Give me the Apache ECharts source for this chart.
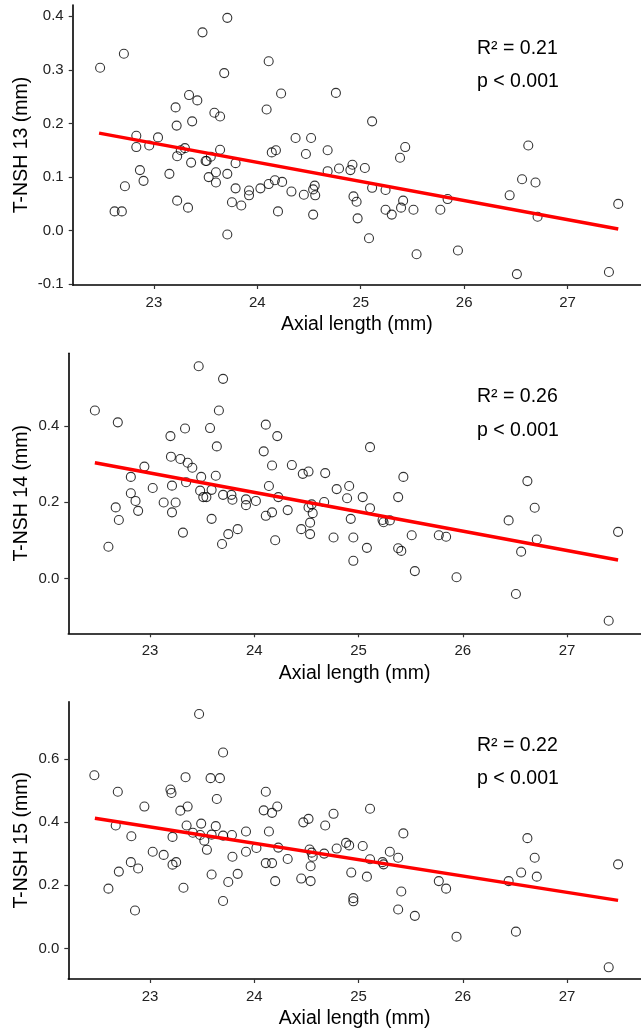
<!DOCTYPE html>
<html>
<head>
<meta charset="utf-8">
<script src="https://cdn.jsdelivr.net/npm/echarts@6/dist/echarts.min.js"></script>
<style>
html,body{margin:0;padding:0;background:#fff;}
#c{width:641px;height:1030px;}
</style>
</head>
<body>
<div id="c"></div>
<script>
// ---- Data ----
var xTicks = [23, 24, 25, 26, 27];
var yTicks13 = [-0.1, 0.0, 0.1, 0.2, 0.3, 0.4];
var yTicks14 = [0.0, 0.2, 0.4];
var yTicks15 = [0.0, 0.2, 0.4, 0.6];

var axial13 = [22.48,22.71,22.72,22.62,22.69,22.83,22.83,22.865,22.90,22.955,23.04,23.15,23.21,23.22,23.225,23.225,23.26,23.30,23.33,23.34,23.36,23.37,23.42,23.47,23.50,23.51,23.55,23.53,23.585,23.60,23.60,23.64,23.64,23.68,23.71,23.71,23.71,23.755,23.79,23.79,23.845,23.92,23.92,24.03,24.09,24.11,24.11,24.14,24.18,24.17,24.20,24.23,24.24,24.33,24.37,24.45,24.47,24.52,24.54,24.555,24.56,24.54,24.68,24.68,24.76,24.79,24.90,24.92,24.93,24.96,24.97,25.04,25.11,25.08,25.11,25.24,25.24,25.30,25.38,25.43,25.41,25.39,25.51,25.54,25.77,25.84,25.94,26.44,26.56,26.62,26.51,26.69,26.71,27.49,27.40];
var tnsh13 = [0.304,0.330,0.083,0.036,0.036,0.177,0.156,0.113,0.093,0.159,0.174,0.106,0.230,0.196,0.056,0.139,0.150,0.154,0.043,0.253,0.127,0.204,0.243,0.370,0.130,0.130,0.138,0.100,0.220,0.109,0.090,0.213,0.151,0.294,0.106,0.397,-0.007,0.053,0.126,0.079,0.047,0.075,0.066,0.079,0.226,0.316,0.087,0.146,0.150,0.094,0.036,0.256,0.091,0.073,0.173,0.067,0.143,0.173,0.077,0.084,0.066,0.030,0.150,0.111,0.257,0.116,0.113,0.123,0.064,0.054,0.023,0.117,0.204,-0.014,0.080,0.076,0.039,0.030,0.136,0.156,0.056,0.043,0.039,-0.044,0.039,0.059,-0.037,0.066,0.096,0.159,-0.081,0.090,0.026,0.050,-0.077];

var axial14 = [22.47,22.69,22.60,22.67,22.70,22.815,22.815,22.86,22.885,22.945,23.025,23.13,23.195,23.20,23.21,23.21,23.245,23.29,23.315,23.335,23.345,23.36,23.405,23.466,23.49,23.48,23.51,23.54,23.575,23.59,23.59,23.63,23.64,23.66,23.70,23.70,23.69,23.75,23.78,23.79,23.84,23.92,23.92,24.015,24.09,24.11,24.11,24.14,24.17,24.17,24.20,24.22,24.23,24.32,24.36,24.45,24.465,24.52,24.52,24.55,24.56,24.535,24.535,24.68,24.67,24.76,24.79,24.89,24.91,24.925,24.95,24.95,25.04,25.11,25.11,25.08,25.23,25.24,25.30,25.38,25.43,25.38,25.41,25.51,25.54,25.77,25.84,25.94,26.44,26.56,26.62,26.51,26.69,26.71,27.49,27.40];
var tnsh14 = [0.440,0.409,0.083,0.186,0.153,0.266,0.223,0.203,0.177,0.293,0.237,0.199,0.373,0.319,0.243,0.173,0.199,0.313,0.120,0.393,0.252,0.303,0.290,0.556,0.266,0.230,0.213,0.213,0.394,0.232,0.156,0.269,0.346,0.440,0.523,0.219,0.090,0.116,0.219,0.206,0.129,0.207,0.192,0.203,0.333,0.403,0.164,0.242,0.296,0.173,0.100,0.373,0.213,0.179,0.297,0.129,0.274,0.280,0.186,0.194,0.171,0.146,0.116,0.276,0.200,0.107,0.234,0.210,0.242,0.156,0.107,0.046,0.213,0.344,0.184,0.080,0.153,0.147,0.152,0.213,0.266,0.079,0.072,0.113,0.019,0.113,0.109,0.003,0.152,0.070,0.255,-0.041,0.185,0.102,0.122,-0.111];

var axial15 = [22.465,22.69,22.67,22.60,22.70,22.82,22.815,22.885,22.855,22.945,23.025,23.13,23.195,23.205,23.215,23.215,23.25,23.29,23.32,23.34,23.35,23.36,23.41,23.47,23.49,23.48,23.52,23.545,23.58,23.59,23.59,23.63,23.64,23.67,23.70,23.70,23.70,23.75,23.785,23.79,23.84,23.92,23.92,24.02,24.09,24.11,24.11,24.14,24.17,24.17,24.20,24.22,24.23,24.32,24.47,24.45,24.52,24.53,24.55,24.56,24.54,24.54,24.68,24.67,24.76,24.79,24.88,24.91,24.93,24.95,24.95,25.04,25.11,25.11,25.08,25.23,25.24,25.30,25.38,25.43,25.41,25.38,25.54,25.77,25.84,25.94,26.44,26.56,26.62,26.51,26.69,26.71,27.49,27.40];
var tnsh15 = [0.548,0.496,0.389,0.189,0.243,0.355,0.273,0.253,0.120,0.449,0.306,0.296,0.503,0.492,0.353,0.265,0.273,0.436,0.192,0.542,0.389,0.449,0.366,0.742,0.395,0.359,0.341,0.312,0.539,0.360,0.234,0.387,0.473,0.539,0.620,0.357,0.150,0.210,0.359,0.290,0.236,0.370,0.306,0.318,0.437,0.496,0.270,0.370,0.429,0.270,0.213,0.449,0.319,0.283,0.399,0.221,0.410,0.313,0.303,0.290,0.260,0.213,0.389,0.300,0.426,0.316,0.334,0.326,0.240,0.159,0.149,0.324,0.442,0.282,0.227,0.273,0.266,0.306,0.287,0.364,0.180,0.123,0.103,0.213,0.189,0.037,0.213,0.240,0.349,0.053,0.287,0.227,0.266,-0.060];

// regression line end points
var fitX = [22.47, 27.49];
var fit13 = [0.182, 0.003];
var fit14 = [0.303, 0.048];
var fit15 = [0.412, 0.152];

var yTitles = ['T-NSH 13 (mm)', 'T-NSH 14 (mm)', 'T-NSH 15 (mm)'];
var r2Labels = ['R\u00B2 = 0.21', 'R\u00B2 = 0.26', 'R\u00B2 = 0.22'];
var pLabels = ['p < 0.001', 'p < 0.001', 'p < 0.001'];
var xTitle = 'Axial length (mm)';

// ---- Build chart ----
function pairs(xs, ys) { var o = []; for (var i = 0; i < xs.length; i++) o.push([xs[i], ys[i]]); return o; }

var FONT = '"Liberation Sans", Arial, sans-serif';
var panels = [
  { grid: { left: 72.7, right: 0, top: 5, height: 280 }, yMin: -0.1013, yMax: 0.421, ticks: yTicks13, xs: axial13, ys: tnsh13, fit: fit13, nameGap: 41 },
  { grid: { left: 68.3, right: 0, top: 353.3, height: 280 }, yMin: -0.144, yMax: 0.59, ticks: yTicks14, xs: axial14, ys: tnsh14, fit: fit14, nameGap: 36.6 },
  { grid: { left: 68.3, right: 0, top: 701.7, height: 278.3 }, yMin: -0.097, yMax: 0.781, ticks: yTicks15, xs: axial15, ys: tnsh15, fit: fit15, nameGap: 36.6 }
];

var grids = [], xAxes = [], yAxes = [], series = [], graphics = [];
panels.forEach(function (p, i) {
  grids.push(p.grid);
  xAxes.push({
    type: 'value', gridIndex: i, min: 22.215, max: 27.71,
    name: xTitle, nameLocation: 'middle', nameGap: 30, nameMoveOverlap: false,
    nameTextStyle: { fontFamily: FONT, fontSize: 19.5, color: '#000' },
    axisLine: { show: true, onZero: false, lineStyle: { color: '#000', width: 1.6 } },
    axisTick: { show: true, customValues: xTicks, length: 4, lineStyle: { color: '#333', width: 1.2 } },
    axisLabel: { customValues: xTicks, margin: 10, fontFamily: FONT, fontSize: 15, color: '#222' },
    splitLine: { show: false }
  });
  yAxes.push({
    type: 'value', gridIndex: i, min: p.yMin, max: p.yMax,
    name: yTitles[i], nameLocation: 'middle', nameGap: p.nameGap, nameRotate: 90, nameMoveOverlap: false,
    nameTextStyle: { fontFamily: FONT, fontSize: 19.5, color: '#000' },
    axisLine: { show: true, onZero: false, lineStyle: { color: '#000', width: 1.6 } },
    axisTick: { show: true, customValues: p.ticks, length: 4, lineStyle: { color: '#333', width: 1.2 } },
    axisLabel: { customValues: p.ticks, margin: 9, fontFamily: FONT, fontSize: 15, color: '#222',
      formatter: function (v) { return v.toFixed(1); } },
    splitLine: { show: false }
  });
  series.push({
    type: 'scatter', xAxisIndex: i, yAxisIndex: i, data: pairs(p.xs, p.ys),
    symbol: 'circle', symbolSize: 9,
    itemStyle: { color: 'rgba(0,0,0,0)', borderColor: '#000', borderWidth: 1.1 },
    silent: true, z: 2
  });
  series.push({
    type: 'line', xAxisIndex: i, yAxisIndex: i, data: pairs(fitX, p.fit),
    showSymbol: false, symbol: 'none', lineStyle: { color: '#ff0000', width: 3.5 },
    silent: true, z: 3
  });
  var top = p.grid.top;
  graphics.push({ type: 'text', x: 477, y: top + 43.5, style: { text: r2Labels[i], font: '19.5px ' + FONT, fill: '#000', verticalAlign: 'middle', align: 'left' } });
  graphics.push({ type: 'text', x: 477, y: top + 77, style: { text: pLabels[i], font: '19.5px ' + FONT, fill: '#000', verticalAlign: 'middle', align: 'left' } });
});

var chart = echarts.init(document.getElementById('c'), null, { renderer: 'canvas' });
chart.setOption({
  animation: false,
  backgroundColor: '#fff',
  grid: grids, xAxis: xAxes, yAxis: yAxes, series: series, graphic: graphics
});
</script>
</body>
</html>
